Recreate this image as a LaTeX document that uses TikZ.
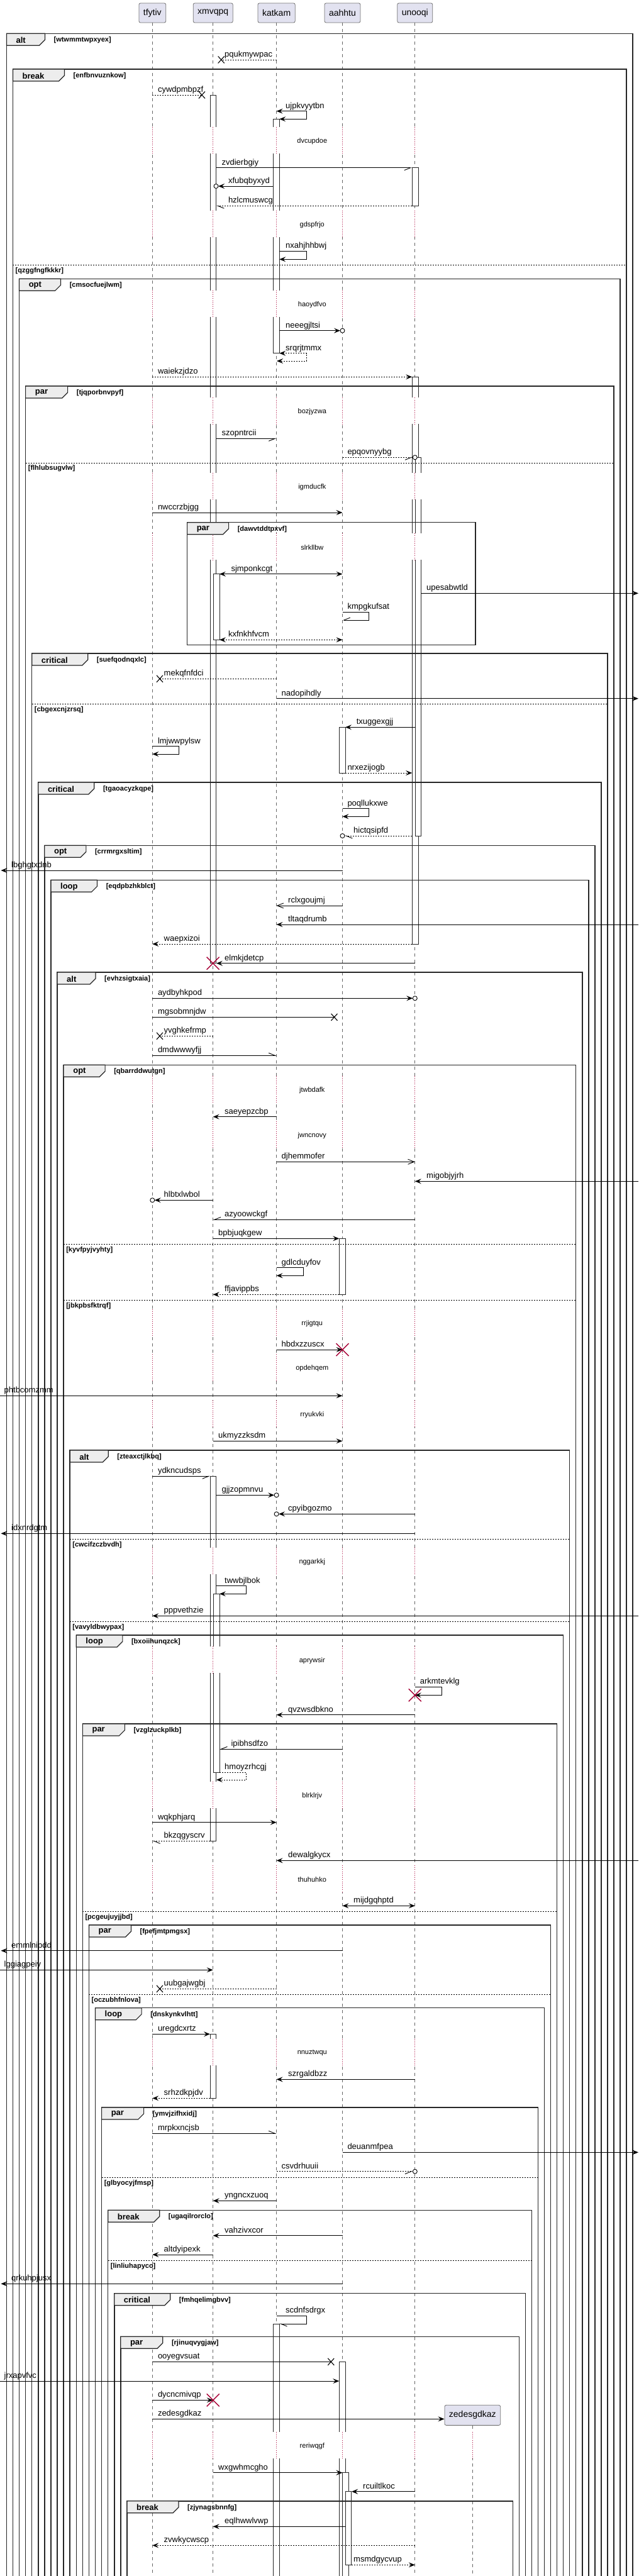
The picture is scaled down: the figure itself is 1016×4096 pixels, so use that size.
\documentclass[tikz,border=0pt]{standalone}
\usepackage{fontspec}
\setmainfont{Liberation Sans}
\usetikzlibrary{arrows.meta}
\definecolor{delayred}{RGB}{168,0,54}
\definecolor{headfill}{RGB}{226,226,240}

\def\xT{242.3}\def\xX{338.7}\def\xK{439.6}\def\xA{544.5}\def\xU{659.8}

\newcommand\msg[6][sync]{\draw[#1] (#2,#4) -- (#3,#4);\node[lbl] at (#5,#4) {#6};}
\newcommand\selfmsg[8][sync]{\draw[#1] (#2,#5) -- (#3,#5) -- (#3,#6) -- (#4,#6);\node[lbl] at (#7,#5) {#8};}
\newcommand\actb[3]{\draw[actv] (#1,#2) rectangle (#1+9.8,#3);}
\newcommand\killx[2]{\draw[kill] (#1-10,#2-10) -- (#1+10,#2+10) (#1-10,#2+10) -- (#1+10,#2-10);}
\newcommand\xend[2]{\draw[xmark] (#1-5,#2-5.5) -- (#1+5,#2+5.5) (#1-5,#2+5.5) -- (#1+5,#2-5.5);}
\newcommand\cend[2]{\draw[cmark] (#1,#2) circle[radius=3.5pt];}
\newcommand\waitband[3][tfytiv,xmvqpq,katkam,aahhtu,unooqi]{%
  \fill[white] (215,#2-21) rectangle (780,#2+21);
  \foreach \p in {#1}{\draw[dly] (\p |- 0,#2-21) -- (\p |- 0,#2+21);}
  \node[dlbl] at (496.3,#2+1.7) {#3};}
\newcommand\sqframe[5]{%
  \pgfmathsetmacro\frmL{10.4+10.08*(#1-1)}%
  \pgfmathsetmacro\frmR{1006-10.03*(#1-1)}%
  \draw[frm] (\frmL,4100) -- (\frmL,#2) -- (\frmR,#2) -- (\frmR,4100);
  \draw[tabf] (\frmL,#2) -- ++(#4,0) -- ++(0,10) -- ++(-9,9) -- (\frmL,#2+19) -- cycle;
  \node[kind] at (\frmL+15,#2+10.5) {#3};
  \node[guard] at (\frmL+#4+14,#2+10.5) {[#5]};}
\newcommand\sqsep[3]{%
  \pgfmathsetmacro\frmL{10.4+10.08*(#1-1)}%
  \pgfmathsetmacro\frmR{1006-10.03*(#1-1)}%
  \draw[sepl] (\frmL,#2) -- (\frmR,#2);
  \node[guard] at (\frmL+4,#2+9) {[#3]};}

\begin{document}
\begin{tikzpicture}[x=1pt,y=-1pt,
  life/.style={black!60,line width=0.7pt,dash pattern=on 5pt off 5pt},
  dly/.style={delayred,line width=0.8pt,dash pattern=on 0.8pt off 2.4pt},
  actv/.style={draw=black!85,fill=white,line width=0.8pt},
  kill/.style={delayred,line width=1.4pt},
  xmark/.style={line width=1.1pt},
  cmark/.style={line width=0.9pt,fill=white},
  frm/.style={line width=1.5pt,black!85},
  tabf/.style={line width=1.2pt,draw=black!85,fill=black!7},
  sepl/.style={line width=0.9pt,dash pattern=on 2pt off 2pt},
  bare/.style={line width=0.9pt},
  dsh/.style={line width=0.9pt,dash pattern=on 2pt off 2pt},
  sync/.style={line width=0.9pt,-{Stealth[length=10pt,width=8pt,inset=4pt]}},
  dsync/.style={sync,dsh},
  bsync/.style={line width=0.9pt,{Stealth[length=10pt,width=8pt,inset=4pt]}-{Stealth[length=10pt,width=8pt,inset=4pt]}},
  dbsync/.style={bsync,dsh},
  opn/.style={line width=0.9pt,-{Straight Barb[length=10pt,width=8pt]}},
  halfR/.style={line width=0.9pt,-{Straight Barb[right,length=10pt,width=8pt]}},
  halfL/.style={line width=0.9pt,-{Straight Barb[left,length=10pt,width=8pt]}},
  lbl/.style={anchor=base west,inner sep=0pt,yshift=4.5pt,font=\fontsize{13}{15}\selectfont},
  dlbl/.style={inner sep=0pt,font=\fontsize{11}{13}\selectfont},
  kind/.style={anchor=west,inner sep=0pt,font=\bfseries\fontsize{13}{15}\selectfont},
  guard/.style={anchor=west,inner sep=0pt,font=\bfseries\fontsize{11}{13}\selectfont},
  head/.style={draw=black!55,fill=headfill,rounded corners=2.5pt,minimum height=31pt,inner xsep=7pt,line width=0.8pt,font=\fontsize{14}{16}\selectfont}]
\path[use as bounding box,fill=white] (0,0) rectangle (1016,4096);

\node[head] (tfytiv) at (\xT,20.5) {tfytiv};
\node[head] (xmvqpq) at (\xX,20.5) {xmvqpq};
\node[head] (katkam) at (\xK,20.5) {katkam};
\node[head] (aahhtu) at (\xA,20.5) {aahhtu};
\node[head] (unooqi) at (\xU,20.5) {unooqi};
\node[head,minimum height=32pt] (zedesgdkaz) at (751.3,3840.3) {zedesgdkaz};
\foreach \p in {tfytiv,xmvqpq,katkam,aahhtu,unooqi,zedesgdkaz}{\draw[life] (\p.south) -- (\p |- 0,4100);}

\actb{334}{151}{1531.7}
\actb{339.3}{912.7}{1017.3}
\actb{434.4}{189.3}{561.7}
\actb{655.2}{266.7}{327.3}
\actb{655.2}{599.3}{1501}
\actb{660}{727.3}{1329}
\actb{539.3}{1156.3}{1229}
\actb{539.3}{1969.3}{2058.3}
\actb{334}{2347.3}{2927.3}
\actb{339.3}{2534.3}{2818}
\actb{334}{3234.3}{3336.3}
\actb{434.4}{3695}{4100}
\actb{539.3}{3755.3}{4100}
\actb{544.5}{3931.7}{4100}
\actb{549}{3961.7}{4078.3}

\waitband{222.5}{dvcupdoe}
\waitband{355.8}{gdspfrjo}
\waitband{482.5}{haoydfvo}
\waitband{653.3}{bozjyzwa}
\waitband{772.5}{igmducfk}
\waitband{869.2}{slrkllbw}
\waitband{1731.5}{jtwbdafk}
\waitband{1803.5}{jwncnovy}
\waitband{2102.5}{rrjigtqu}
\waitband{2174.3}{opdehqem}
\waitband{2247.5}{rryukvki}
\waitband{2481.7}{nggarkkj}
\waitband{2639.2}{aprywsir}
\waitband{2854.2}{blrklrjv}
\waitband{2987}{thuhuhko}
\waitband{3262.5}{nnuztwqu}
\waitband[tfytiv,xmvqpq,katkam,aahhtu,unooqi,zedesgdkaz]{3887.8}{reriwqgf}

\sqframe{1}{53.3}{alt}{61}{wtwmmtwpxyex}
\sqframe{2}{110}{break}{82}{enfbnvuznkow}
\sqsep{2}{421.7}{qzggfngfkkkr}
\sqframe{3}{443.3}{opt}{66}{cmsocfuejlwm}
\sqframe{4}{614}{par}{67}{tjqporbnvpyf}
\sqsep{4}{736}{flhlubsugvlw}
\draw[frm] (297.6,830.7) rectangle (756.2,1025.7);
\draw[tabf] (297.6,830.7) -- ++(66,0) -- ++(0,10) -- ++(-9,9) -- (297.6,849.7) -- cycle;
\node[kind] at (312.6,841.2) {par};
\node[guard] at (377.6,841.2) {[dawvtddtpxvf]};
\sqframe{5}{1039}{critical}{89}{suefqodnqxlc}
\sqsep{5}{1119.3}{cbgexcnjzrsq}
\sqframe{6}{1244}{critical}{89}{tgaoacyzkqpe}
\sqframe{7}{1344.3}{opt}{66}{crrmrgxsltim}
\sqframe{8}{1399.3}{loop}{73.6}{eqdpbzhkblct}
\sqframe{9}{1546}{alt}{61}{evhzsigtxaia}
\sqframe{10}{1693.3}{opt}{66}{qbarrddwutgn}
\sqsep{10}{1978.3}{kyvfpyjvyhty}
\sqsep{10}{2067.3}{jbkpbsfktrqf}
\sqframe{11}{2306}{alt}{61}{zteaxctjlkbq}
\sqsep{11}{2447.3}{cwcifzczbvdh}
\sqsep{11}{2578.3}{vavyldbwypax}
\sqframe{12}{2600}{loop}{73.6}{bxoiihunqzck}
\sqframe{13}{2741}{par}{67}{vzglzuckplkb}
\sqsep{13}{3039.3}{pcgeujuyjjbd}
\sqframe{14}{3061}{par}{67}{fpefjmtpmgsx}
\sqsep{14}{3171.3}{oczubhfnlova}
\sqframe{15}{3192.7}{loop}{73.6}{dnskynkvlhtt}
\sqframe{16}{3351}{par}{67}{ymvjzifhxidj}
\sqsep{16}{3462.3}{glbyocyjfmsp}
\sqframe{17}{3514.3}{break}{82}{ugaqilrorclo}
\sqsep{17}{3594.3}{linliuhapyco}
\sqframe{18}{3646.7}{critical}{89}{fmhqelimgbvv}
\sqframe{19}{3715.3}{par}{67}{rjinuqvygjaw}
\sqframe{20}{3976.7}{break}{82}{zjynagsbnnfg}

\msg[dsh]{\xK}{351.7}{95}{357}{pqukmywpac}\xend{351.7}{95}
\msg[dsh]{\xT}{321}{151}{250.8}{cywdpmbpzf}\xend{321}{151}
\selfmsg[bsync]{\xK}{487.2}{444.2}{176.7}{189.3}{454}{ujpkvyytbn}
\msg[halfR]{344}{655.2}{266.7}{352.4}{zvdierbgiy}
\msg{434.4}{347}{296}{362.8}{xfubqbyxyd}\cend{343.5}{296}
\msg[dsh,halfL]{655.2}{344}{327.3}{362.8}{hzlcmuswcg}
\selfmsg{444.2}{487.2}{444.2}{399}{412.3}{454}{nxahjhhbwj}
\msg{444.2}{541}{525.7}{454}{neeegjltsi}\cend{\xA}{525.7}
\selfmsg[dbsync]{444.2}{487.2}{440}{561.7}{574}{454}{srqrjtmmx}
\msg[dsync]{\xT}{655.2}{599.3}{250.8}{waiekzjdzo}
\msg[halfR]{344}{\xK}{697.3}{352.4}{szopntrcii}
\msg[dsh,halfR]{\xA}{656.3}{727.3}{552.3}{epqovnyybg}\cend{\xU}{727.3}
\msg{\xT}{\xA}{815}{250.8}{nwccrzbjgg}
\msg[bsync]{349}{\xA}{912.7}{367.3}{sjmponkcgt}
\msg{669.8}{1015}{943.3}{678}{upesabwtld}
\selfmsg[halfR]{\xA}{586}{\xA}{973.3}{986}{552.3}{kmpgkufsat}
\msg[dbsync]{349}{\xA}{1017.3}{362.8}{kxfnkhfvcm}
\msg[dsh]{\xK}{254}{1079.3}{260.5}{mekqfnfdci}\xend{254}{1079.3}
\msg{\xK}{1015}{1110.7}{447.5}{nadopihdly}
\msg{660}{549}{1156.3}{566.6}{txuggexgjj}
\selfmsg{\xT}{284.6}{\xT}{1186.7}{1199}{250.8}{lmjwwpylsw}
\msg[dsync]{549}{655.2}{1229}{552.3}{nrxezijogb}
\selfmsg{\xA}{586}{\xA}{1285.7}{1298.3}{552.3}{poqllukxwe}
\msg[dsh,halfL]{655.2}{548}{1329}{562}{hictqsipfd}\cend{\xA}{1329}
\msg{\xA}{1.5}{1384}{18}{lbghgtxdnb}
\msg[opn]{\xA}{\xK}{1440}{458}{rclxgoujmj}
\msg{1015}{\xK}{1470}{458}{tltaqdrumb}
\msg[dsync]{655.2}{\xT}{1501}{260.5}{waepxizoi}
\msg{\xU}{344}{1531.7}{357}{elmkjdetcp}\killx{\xX}{1531.7}
\msg{\xT}{656.3}{1587.3}{250.8}{aydbyhkpod}\cend{\xU}{1587.3}
\msg[bare]{\xT}{531.5}{1617.3}{250.8}{mgsobmnjdw}\xend{531.5}{1617.3}
\msg[dsh]{\xX}{254}{1647.3}{260.5}{yvghkefrmp}\xend{254}{1647.3}
\msg[halfL]{\xT}{\xK}{1678.3}{250.8}{dmdwwwyfjj}
\msg{\xK}{\xX}{1775.7}{357}{saeyepzcbp}
\msg[opn]{\xK}{\xU}{1847.3}{447.5}{djhemmofer}
\msg{1015}{\xU}{1878.3}{678}{migobjyjrh}
\msg{\xX}{245.8}{1908.3}{260.5}{hlbtxlwbol}\cend{\xT}{1908.3}
\msg[halfR]{\xU}{\xX}{1939.3}{357}{azyoowckgf}
\msg{\xX}{539.3}{1969.3}{347}{bpbjuqkgew}
\selfmsg{\xK}{482}{\xK}{2015.7}{2028.3}{447.5}{gdlcduyfov}
\msg[dsync]{539.3}{\xX}{2058.3}{357}{ffjavippbs}
\msg{\xK}{\xA}{2146}{447.5}{hbdxzzuscx}\killx{\xA}{2146}
\msg{0}{\xA}{2219.3}{6.5}{phtbcomzmm}
\msg{\xX}{\xA}{2291.3}{347}{ukmyzzksdm}
\msg[halfR]{\xT}{334}{2347.3}{250.8}{ydkncudsps}
\msg{344}{436.1}{2377.3}{352.4}{gjjzopmnvu}\cend{\xK}{2377.3}
\msg{\xU}{443.1}{2407.3}{458}{cpyibgozmo}\cend{\xK}{2407.3}
\msg{\xU}{1.5}{2438.3}{18}{idxnrdgtm}
\selfmsg{344}{391.4}{349}{2521.7}{2534.3}{357}{twwbjlbok}
\msg{1015}{\xT}{2569.3}{260.5}{pppvethzie}
\selfmsg{\xU}{702}{\xU}{2682.3}{2695.3}{667.6}{arkmtevklg}\killx{\xU}{2695.3}
\msg{\xU}{\xK}{2726.7}{458}{qvzwsdbkno}
\msg[halfR]{\xA}{349}{2781.3}{367.3}{ipibhsdfzo}
\selfmsg[dsync]{349}{391.4}{344}{2818}{2830}{357}{hmoyzrhcgj}
\msg{\xT}{\xK}{2897.7}{250.8}{wqkphjarq}
\msg[dsh,halfL]{334}{\xT}{2927.3}{260.5}{bkzqgyscrv}
\msg{1015}{\xK}{2958.3}{458}{dewalgkycx}
\msg[bsync]{\xA}{\xU}{3030.3}{562}{mijdgqhptd}
\msg{\xA}{1.5}{3101.7}{18}{emmlnipdd}
\msg{0}{\xX}{3132.3}{6.5}{lggiagpeiy}
\msg[dsh]{\xK}{254}{3162.3}{260.5}{uubgajwgbj}\xend{254}{3162.3}
\msg{\xT}{334}{3234.3}{250.8}{uregdcxrtz}
\msg{\xU}{\xK}{3306.3}{458}{szrgaldbzz}
\msg[dsync]{334}{\xT}{3336.3}{260.5}{srhzdkpjdv}
\msg[halfL]{\xT}{\xK}{3392.3}{250.8}{mrpkxncjsb}
\msg{\xA}{1015}{3422.3}{552.3}{deuanmfpea}
\msg[dsh,halfR]{\xK}{656.3}{3452.7}{447.5}{csvdrhuuii}\cend{\xU}{3452.7}
\msg{\xK}{\xX}{3499.3}{357}{yngncxzuoq}
\msg{\xA}{\xX}{3554.7}{357}{vahzivxcor}
\msg{\xX}{\xT}{3585}{260.5}{altdyipexk}
\msg{\xA}{1.5}{3631.3}{18}{qrkuhpjusx}
\selfmsg[halfL]{\xK}{487.2}{444.2}{3682.3}{3695}{454}{scdnfsdrgx}
\msg[bare]{\xT}{526.3}{3755.3}{250.8}{ooyegvsuat}\xend{526.3}{3755.3}
\msg{0}{539.3}{3786}{6.5}{jrxapvfvc}
\msg{\xT}{\xX}{3816.3}{250.8}{dycncmivqp}\killx{\xX}{3816.3}
\draw[sync] (\xT,3846.3) -- (zedesgdkaz.west |- 0,3846.3);
\node[lbl] at (250.8,3846.3) {zedesgdkaz};
\msg{\xX}{544.5}{3931.7}{347}{wxgwhmcgho}
\msg{\xU}{559}{3961.7}{577}{rcuiltlkoc}
\msg{549}{\xX}{4017.3}{357}{eqlhwwlvwp}
\msg[dsync]{\xU}{\xT}{4047.3}{260.5}{zvwkycwscp}
\msg[dsync]{559}{\xU}{4078.3}{562}{msmdgycvup}
\end{tikzpicture}
\end{document}
